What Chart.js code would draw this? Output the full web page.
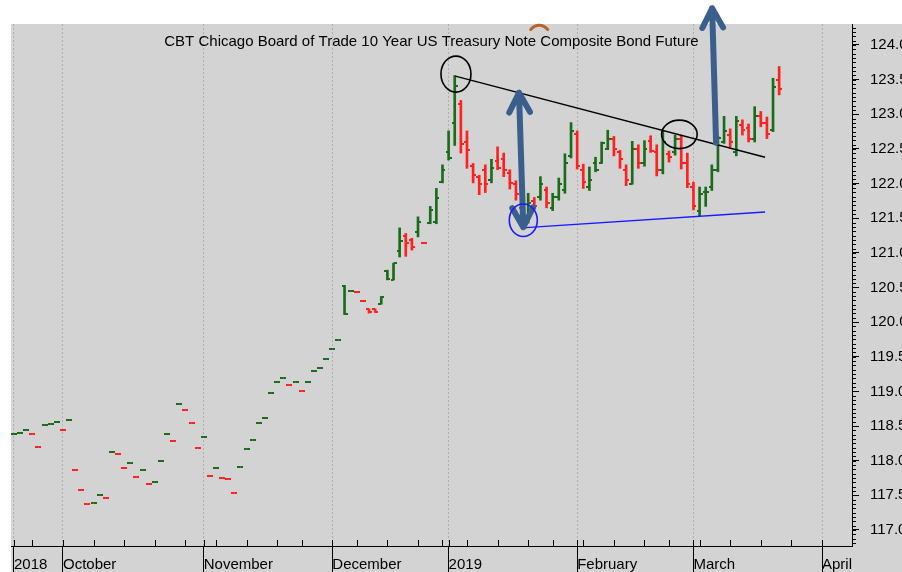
<!DOCTYPE html>
<html>
<head>
<meta charset="utf-8">
<script src="https://cdn.jsdelivr.net/npm/chart.js@4.4.0/dist/chart.umd.min.js"></script>
<style>
  html, body { margin: 0; padding: 0; background: #fff; }
  #wrap { width: 902px; height: 572px; }
</style>
</head>
<body>
<div id="wrap"><canvas id="chart" width="902" height="572"></canvas></div>
<script>
// daily bars, index 0 = 19 Sep 2018 (trading days only)
const opens = [
  118.39,118.40,118.45,118.39,118.20,118.52,118.53,118.56,118.45,118.59,
  117.86,117.58,117.37,117.39,117.51,117.46,118.13,118.09,117.89,117.96,
  117.77,117.86,117.66,117.69,118.00,118.39,118.29,118.82,118.73,118.55,
  118.19,118.34,117.78,117.89,117.75,117.74,117.54,117.91,118.17,118.30,
  118.55,118.62,118.98,119.14,119.20,119.09,119.14,119.00,119.13,119.29,
  119.34,119.47,119.61,119.74,
  120.52,120.45,120.44,120.31,120.19,120.19,120.26,120.74,120.61,121.03,
  121.25,121.18,121.30,121.14,121.43,121.45,122.02,122.46,122.88,123.15,
  122.60,122.25,122.10,122.20,122.05,122.33,122.35,122.15,122.00,121.65,
  121.50,121.75,121.80,121.90,121.65,121.80,121.90,122.40,122.72,122.20,
  121.95,122.30,122.30,122.50,122.65,122.45,122.20,122.00,122.50,122.30,
  122.62,122.45,122.20,122.42,122.45,122.65,122.30,121.95,121.60,121.88,
  121.95,122.20,122.60,122.70,122.45,122.85,122.80,122.65,122.97,122.88,
  122.78,123.50
];
const highs = [
  118.39,118.40,118.45,118.39,118.20,118.52,118.53,118.56,118.45,118.59,
  117.86,117.58,117.37,117.39,117.51,117.46,118.13,118.09,117.89,117.96,
  117.77,117.86,117.66,117.69,118.00,118.39,118.29,118.82,118.73,118.55,
  118.19,118.34,117.78,117.89,117.75,117.74,117.54,117.91,118.17,118.30,
  118.55,118.62,118.98,119.14,119.20,119.09,119.14,119.00,119.13,119.29,
  119.34,119.47,119.61,119.74,
  120.53,120.45,120.44,120.31,120.19,120.19,120.37,120.75,120.85,121.36,
  121.28,121.21,121.52,121.14,121.67,121.93,122.27,122.76,123.56,123.20,
  122.76,122.29,122.12,122.27,122.35,122.53,122.44,122.20,122.04,121.66,
  121.86,121.80,122.10,121.95,121.86,122.08,122.43,122.88,122.76,122.28,
  122.24,122.38,122.60,122.77,122.68,122.48,122.27,122.61,122.56,122.62,
  122.69,122.56,122.76,122.47,122.70,122.70,122.44,122.02,121.95,121.95,
  122.27,122.68,122.97,122.79,122.97,122.92,122.86,123.11,123.04,122.96,
  123.52,123.69
];
const lows = [
  118.39,118.40,118.45,118.39,118.20,118.52,118.53,118.56,118.45,118.59,
  117.86,117.58,117.37,117.39,117.51,117.46,118.13,118.09,117.89,117.96,
  117.77,117.86,117.66,117.69,118.00,118.39,118.29,118.82,118.73,118.55,
  118.19,118.34,117.78,117.89,117.75,117.74,117.54,117.91,118.17,118.30,
  118.55,118.62,118.98,119.14,119.20,119.09,119.14,119.00,119.13,119.29,
  119.34,119.47,119.61,119.74,
  120.11,120.45,120.44,120.31,120.13,120.14,120.26,120.61,120.61,120.94,
  120.95,121.04,121.23,121.14,121.42,121.42,122.01,122.34,122.55,122.44,
  122.22,122.01,121.84,121.87,122.01,122.20,122.10,121.92,121.76,121.36,
  121.43,121.63,121.76,121.65,121.61,121.76,121.86,122.37,122.21,121.93,
  121.90,122.17,122.29,122.49,122.40,122.22,121.97,121.99,122.22,122.25,
  122.45,122.11,122.14,122.31,122.41,122.21,121.94,121.62,121.53,121.67,
  121.90,122.17,122.58,122.53,122.40,122.70,122.60,122.60,122.82,122.65,
  122.75,123.28
];
const closes = [
  118.39,118.40,118.45,118.39,118.20,118.52,118.53,118.56,118.45,118.59,
  117.86,117.58,117.37,117.39,117.51,117.46,118.13,118.09,117.89,117.96,
  117.77,117.86,117.66,117.69,118.00,118.39,118.29,118.82,118.73,118.55,
  118.19,118.34,117.78,117.89,117.75,117.74,117.54,117.91,118.17,118.30,
  118.55,118.62,118.98,119.14,119.20,119.09,119.14,119.00,119.13,119.29,
  119.34,119.47,119.61,119.74,
  120.12,120.45,120.44,120.31,120.15,120.14,120.37,120.62,120.85,121.17,
  121.14,121.09,121.45,121.14,121.62,121.79,122.20,122.37,123.41,122.57,
  122.48,122.12,122.00,121.99,122.23,122.22,122.20,122.01,121.85,121.45,
  121.72,121.68,122.00,121.72,121.80,122.00,122.30,122.76,122.25,122.02,
  122.05,122.19,122.58,122.65,122.50,122.35,122.05,122.50,122.30,122.50,
  122.47,122.20,122.60,122.38,122.65,122.30,122.00,121.68,121.85,121.88,
  122.20,122.66,122.76,122.60,122.90,122.78,122.65,122.97,122.87,122.72,
  123.40,123.36
];

// axis labels
const monthIdx = [0, 8, 31, 52, 71, 92, 111, 132];
const monthLabels = ['2018', 'October', 'November', 'December', '2019', 'February', 'March', 'April'];
const weekIdx = [3, 8, 13, 18, 23, 28, 33, 38, 43, 47, 52, 56, 61, 66, 70, 74, 79, 84, 88, 93, 98, 103, 107, 112, 117, 122, 127, 132];
const yTicks = [117.0, 117.5, 118.0, 118.5, 119.0, 119.5, 120.0, 120.5, 121.0, 121.5, 122.0, 122.5, 123.0, 123.5, 124.0];

// drawn annotations, in [bar index, price]
const resistanceLine = [[72.1, 123.55], [122.7, 122.38]];
const supportLine = [[83.0, 121.36], [122.7, 121.59]];
const rangeArrow = [[82.5, 123.31], [83.2, 121.37]];
const breakoutArrow = [[114.7, 122.59], [114.05, 124.53]];
const circles = [
  { c: [72.2, 123.58], r: [2.45, 0.26], color: '#000' },
  { c: [83.2, 121.47], r: [2.29, 0.235], color: '#1a1aff' },
  { c: [108.7, 122.71], r: [2.91, 0.205], color: '#000' }
];
const titleText = 'CBT Chicago Board of Trade 10 Year US Treasury Note Composite Bond Future';

const GREEN = '#1a6b1a';
const RED = '#ff2020';
const ARROW = '#3a5f8c';

Chart.defaults.font.family = '"Liberation Sans", Arial, sans-serif';
Chart.defaults.font.size = 15;
Chart.defaults.color = '#000';

const barColors = closes.map((c, i) => (i === 0 || c >= closes[i - 1]) ? GREEN : RED);

function tickImage(color, side) {
  const c = document.createElement('canvas');
  c.width = 6; c.height = 2;
  const g = c.getContext('2d');
  g.fillStyle = color;
  g.fillRect(side === 'left' ? 0 : 3, 0, 3, 2);
  return c;
}
const openImg = { [GREEN]: tickImage(GREEN, 'left'), [RED]: tickImage(RED, 'left') };
const closeImg = { [GREEN]: tickImage(GREEN, 'right'), [RED]: tickImage(RED, 'right') };

const background = {
  id: 'background',
  beforeDraw(chart) {
    const { ctx, chartArea } = chart;
    ctx.save();
    ctx.fillStyle = '#fff';
    ctx.fillRect(0, 0, chart.width, chart.height);
    ctx.fillStyle = '#d3d3d3';
    ctx.fillRect(chartArea.left, chartArea.top, chart.width - chartArea.left, chart.height - chartArea.top);
    ctx.restore();
  }
};

function px(chart, p) {
  return [chart.scales.x.getPixelForValue(p[0]), chart.scales.y.getPixelForValue(p[1])];
}

function arrowHead(ctx, tip, from) {
  const ang = Math.atan2(tip[1] - from[1], tip[0] - from[0]);
  const len = 22, spread = 0.49;
  ctx.moveTo(tip[0] - Math.cos(ang - spread) * len, tip[1] - Math.sin(ang - spread) * len);
  ctx.lineTo(tip[0], tip[1]);
  ctx.lineTo(tip[0] - Math.cos(ang + spread) * len, tip[1] - Math.sin(ang + spread) * len);
}

const annotations = {
  id: 'annotations',
  afterDatasetsDraw(chart) {
    const { ctx } = chart;
    ctx.save();
    // trend lines
    [[resistanceLine, '#000'], [supportLine, '#1a1aff']].forEach(([ln, col]) => {
      const a = px(chart, ln[0]), b = px(chart, ln[1]);
      ctx.strokeStyle = col;
      ctx.lineWidth = 1.4;
      ctx.beginPath();
      ctx.moveTo(a[0], a[1]);
      ctx.lineTo(b[0], b[1]);
      ctx.stroke();
    });
    // arrows
    ctx.strokeStyle = ARROW;
    ctx.lineWidth = 6;
    ctx.lineCap = 'round';
    ctx.lineJoin = 'round';
    [[rangeArrow, true], [breakoutArrow, false]].forEach(([ar, both]) => {
      const a = px(chart, ar[0]), b = px(chart, ar[1]);
      ctx.beginPath();
      ctx.moveTo(a[0], a[1]);
      ctx.lineTo(b[0], b[1]);
      arrowHead(ctx, b, a);
      if (both) arrowHead(ctx, a, b);
      ctx.stroke();
    });
    // circles
    ctx.lineWidth = 1.6;
    circles.forEach(o => {
      const c = px(chart, o.c);
      const e = px(chart, [o.c[0] + o.r[0], o.c[1] + o.r[1]]);
      ctx.strokeStyle = o.color;
      ctx.beginPath();
      ctx.ellipse(c[0], c[1], Math.abs(e[0] - c[0]), Math.abs(e[1] - c[1]), 0, 0, Math.PI * 2);
      ctx.stroke();
    });
    // partly hidden arc at the top
    const arc = px(chart, [85.8, 124.07]);
    ctx.strokeStyle = '#b5652b';
    ctx.lineWidth = 3;
    ctx.beginPath();
    ctx.ellipse(arc[0], arc[1], 12, 15, 0, Math.PI * 1.25, Math.PI * 1.75);
    ctx.stroke();
    ctx.restore();
  }
};

const extras = {
  id: 'extras',
  afterDraw(chart) {
    const { ctx, chartArea, scales: { x, y } } = chart;
    ctx.save();
    ctx.strokeStyle = '#000';
    ctx.lineWidth = 1;
    ctx.beginPath();
    // minor price ticks, 1/16 point
    for (let v = 116.8125; v <= 124.3; v += 0.0625) {
      const py = Math.round(y.getPixelForValue(v)) + 0.5;
      ctx.moveTo(y.left, py);
      ctx.lineTo(y.left + 4, py);
    }
    // weekly ticks above the time axis
    weekIdx.concat(monthIdx).forEach(i => {
      const p = Math.round(x.getPixelForValue(i)) + 0.5;
      ctx.moveTo(p, x.top);
      ctx.lineTo(p, x.top - 6);
    });
    ctx.stroke();
    // title
    ctx.fillStyle = '#000';
    ctx.font = '15px "Liberation Sans", Arial, sans-serif';
    ctx.textAlign = 'center';
    ctx.textBaseline = 'middle';
    ctx.fillText(titleText, (chartArea.left + chartArea.right) / 2, 42);
    ctx.restore();
  }
};

new Chart(document.getElementById('chart'), {
  type: 'bar',
  data: {
    datasets: [
      {
        type: 'bar',
        data: highs.map((h, i) => ({ x: i, y: [lows[i], h] })),
        backgroundColor: barColors,
        barThickness: 2,
        minBarLength: 0,
        order: 2
      },
      {
        type: 'scatter',
        data: opens.map((o, i) => ({ x: i, y: o })),
        pointStyle: ctx => openImg[barColors[ctx.dataIndex]],
        pointRadius: 3,
        order: 1
      },
      {
        type: 'scatter',
        data: closes.map((c, i) => ({ x: i, y: c })),
        pointStyle: ctx => closeImg[barColors[ctx.dataIndex]],
        pointRadius: 3,
        order: 1
      }
    ]
  },
  options: {
    responsive: false,
    animation: false,
    events: [],
    layout: { padding: { left: 11, top: 24, right: 0, bottom: 0 } },
    plugins: { legend: { display: false }, tooltip: { enabled: false } },
    scales: {
      x: {
        type: 'linear',
        min: -0.49,
        max: 136.9,
        offset: false,
        afterBuildTicks: s => { s.ticks = monthIdx.map(v => ({ value: v })); },
        afterFit: s => { s.height = 26; },
        grid: { offset: false, color: '#b0b0b0', lineWidth: 1, tickLength: 26, tickColor: '#000', tickWidth: 1 },
        border: { display: true, color: '#000', width: 1, dash: [2, 2] },
        ticks: {
          autoSkip: false, maxRotation: 0, minRotation: 0, align: 'start', padding: -16,
          callback: (v, i) => monthLabels[i]
        }
      },
      y: {
        type: 'linear',
        position: 'right',
        min: 116.769,
        max: 124.303,
        afterBuildTicks: s => { s.ticks = yTicks.map(v => ({ value: v })); },
        afterFit: s => { s.width = 50; },
        grid: { drawOnChartArea: false, tickLength: 7, tickColor: '#000' },
        border: { display: true, color: '#000', width: 1 },
        ticks: { padding: 11, callback: v => v.toFixed(1) }
      }
    }
  },
  plugins: [background, annotations, extras]
});
</script>
</body>
</html>
